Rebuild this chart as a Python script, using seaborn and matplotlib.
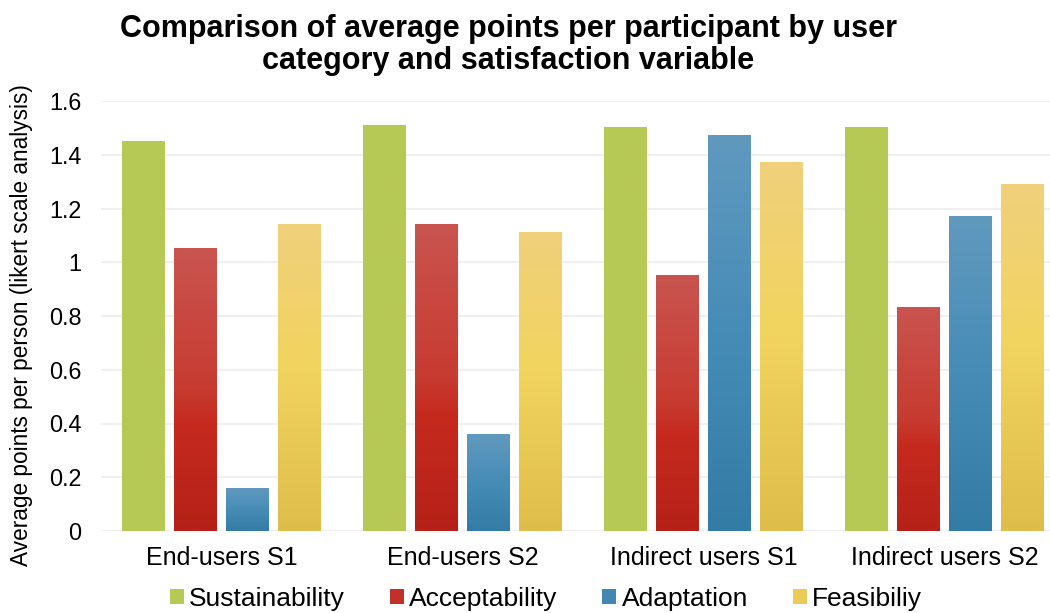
import numpy as np
import pandas as pd
import matplotlib
matplotlib.use("Agg")
import matplotlib.pyplot as plt
import matplotlib.colors as mcolors
from matplotlib.patches import Patch
import seaborn as sns

# ---- data ----
categories = ["End-users S1", "End-users S2", "Indirect users S1", "Indirect users S2"]
series_names = ["Sustainability", "Acceptability", "Adaptation", "Feasibiliy"]
sustainability = [1.45, 1.51, 1.50, 1.50]
acceptability = [1.05, 1.14, 0.95, 0.83]
adaptation = [0.16, 0.36, 1.47, 1.17]
feasibility = [1.14, 1.11, 1.37, 1.29]
y_ticks = [0, 0.2, 0.4, 0.6, 0.8, 1.0, 1.2, 1.4, 1.6]

# ---- styling ----
base_colors = ["#B7C955", "#C62B21", "#4289B5", "#EDCB58"]
gradients = [
    [(0.0, "#B7C955"), (1.0, "#B7C955")],
    [(0.0, "#CA5450"), (0.5, "#C73B30"), (0.62, "#C62A1F"), (1.0, "#B52118")],
    [(0.0, "#6199BE"), (0.5, "#468CB7"), (1.0, "#337CA5")],
    [(0.0, "#F0D07B"), (0.45, "#F2D460"), (1.0, "#DFBD4A")],
]

sns.set_theme(style="white")
plt.rcParams["font.family"] = ["Liberation Sans", "DejaVu Sans"]
plt.rcParams["text.color"] = "black"

df = pd.DataFrame({
    "category": np.repeat(categories, 4),
    "series": series_names * len(categories),
    "value": np.array([sustainability, acceptability, adaptation, feasibility]).T.ravel(),
})

fig = plt.figure(figsize=(10.5, 6.13), dpi=100)
ax = fig.add_axes([101 / 1050, 1 - 531 / 613, 964 / 1050, 430 / 613])

sns.barplot(data=df, x="category", y="value", hue="series", order=categories,
            hue_order=series_names, palette=base_colors, width=0.864, gap=0.176,
            legend=False, ax=ax, linewidth=0, zorder=2)


def make_grad(stops):
    n = 256
    pos = np.linspace(0, 1, n)
    sp = [s[0] for s in stops]
    cols = np.array([mcolors.to_rgb(s[1]) for s in stops])
    arr = np.zeros((n, 1, 3))
    for c in range(3):
        arr[:, 0, c] = np.interp(pos, sp, cols[:, c])
    return arr


for cont, stops in zip(ax.containers, gradients):
    grad = make_grad(stops)
    for p in cont.patches:
        x0, y0 = p.get_x(), p.get_y()
        w, h = p.get_width(), p.get_height()
        ax.imshow(grad, extent=[x0, x0 + w, y0, y0 + h], aspect="auto",
                  origin="upper", zorder=2.5, interpolation="bilinear")
        p.set_visible(False)

ax.set_xlim(-0.5, 3.5)
ax.set_ylim(0, 1.6)
ax.set_yticks(y_ticks)
ax.set_yticklabels([f"{t:g}" for t in y_ticks])
ax.grid(axis="y", color="#F0F0F0", linewidth=1.5, zorder=0)
ax.set_axisbelow(True)
for s in ax.spines.values():
    s.set_visible(False)
ax.tick_params(axis="y", length=0, pad=14, labelsize=16.8, labelcolor="black")
ax.tick_params(axis="x", length=0, pad=11, labelsize=18, labelcolor="black")
ax.set_xlabel("")
ax.set_ylabel("")

fig.text(22 / 1050, 1 - 325 / 613, "Average points per person (likert scale analysis)",
         rotation=90, ha="center", va="center", fontsize=16.3, color="black")

fig.text(508 / 1050, 1 - 45 / 613,
         "Comparison of average points per participant by user\ncategory and satisfaction variable",
         ha="center", va="center", fontsize=22, fontweight="bold", linespacing=1.1,
         color="black")

handles = [Patch(facecolor=c, edgecolor="none") for c in
           ["#B7C955", "#C2302A", "#4187B2", "#EBCA5A"]]
fig.legend(handles, series_names, loc="center", bbox_to_anchor=(546 / 1050, 1 - 599 / 613),
           ncol=4, frameon=False, fontsize=19, handlelength=0.53, handleheight=0.53,
           handletextpad=0.2, columnspacing=1.7, borderpad=0, labelcolor="black")

fig.savefig("out.png", dpi=100)
